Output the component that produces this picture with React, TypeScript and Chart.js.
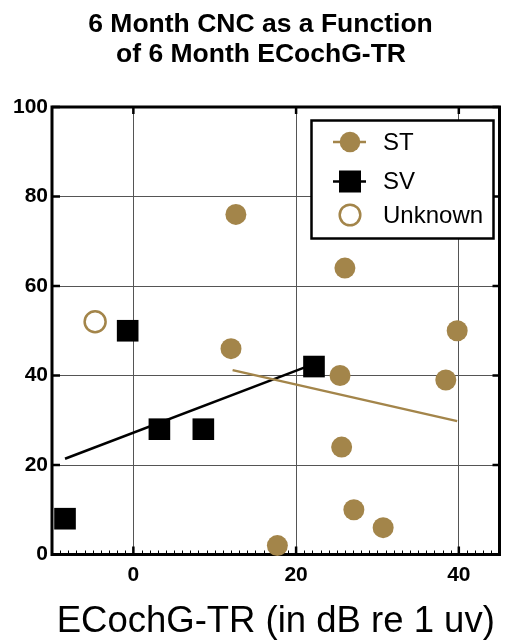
import React, { useEffect, useRef } from 'react';
import { Chart, registerables } from 'chart.js';

Chart.register(...registerables);

const titleLines = ['6 Month CNC as a Function', 'of 6 Month ECochG-TR'];
const xAxisTitle = 'ECochG-TR (in dB re 1 uv)';
const xTickValues = [0, 20, 40];
const yTickValues = [0, 20, 40, 60, 80, 100];

const stX = [12.6, 12, 26, 39.8, 25.4, 38.4, 25.6, 27.1, 30.7, 17.7];
const stY = [76, 46, 64, 50, 40, 39, 24, 10, 6, 2];
const svX = [-8.4, -0.7, 3.2, 8.6, 22.2];
const svY = [8, 50, 28, 28, 42];
const unknownX = [-4.7];
const unknownY = [52];
const stFitX = [12.2, 39.8];
const stFitY = [41.2, 29.8];
const svFitX = [-8.4, 22.2];
const svFitY = [21.4, 42.6];
const legendLabels = ['ST', 'SV', 'Unknown'];

const GOLD = '#A3854A';
const FONT = "'Liberation Sans', Arial, sans-serif";

const pts = (xs: number[], ys: number[]) => xs.map((x, i) => ({ x, y: ys[i] }));

const decor = {
  id: 'decor',
  beforeDatasetsDraw(chart: any) {
    const { ctx, chartArea: a, scales } = chart;
    const xs = scales.x;
    const ys = scales.y;
    ctx.save();
    ctx.strokeStyle = '#000';
    ctx.lineWidth = 1;
    for (let v = -10; v <= 45; v += 1) {
      const px = Math.round(xs.getPixelForValue(v)) + 0.5;
      ctx.beginPath();
      ctx.moveTo(px, a.bottom);
      ctx.lineTo(px, a.bottom - 4);
      ctx.stroke();
    }
    ctx.lineWidth = 2.5;
    xTickValues.forEach((v) => {
      const px = xs.getPixelForValue(v);
      ctx.beginPath();
      ctx.moveTo(px, a.bottom);
      ctx.lineTo(px, a.bottom - 8);
      ctx.moveTo(px, a.top);
      ctx.lineTo(px, a.top + 7);
      ctx.stroke();
    });
    yTickValues.forEach((v) => {
      const py = ys.getPixelForValue(v);
      ctx.beginPath();
      ctx.moveTo(a.left, py);
      ctx.lineTo(a.left + 8, py);
      ctx.moveTo(a.right, py);
      ctx.lineTo(a.right - 7, py);
      ctx.stroke();
    });
    ctx.lineWidth = 3;
    ctx.strokeRect(a.left, a.top, a.right - a.left, a.bottom - a.top);
    ctx.restore();
  },
  afterDraw(chart: any) {
    const { ctx } = chart;
    ctx.save();
    ctx.fillStyle = '#000';
    ctx.font = `bold 26.5px ${FONT}`;
    ctx.textAlign = 'center';
    ctx.textBaseline = 'alphabetic';
    ctx.fillText(titleLines[0], 260.5, 31.7);
    ctx.fillText(titleLines[1], 261, 62);
    const bx = 311.5, by = 120.5, bw = 182, bh = 118;
    ctx.fillStyle = '#fff';
    ctx.fillRect(bx, by, bw, bh);
    ctx.strokeStyle = '#000';
    ctx.lineWidth = 2.5;
    ctx.strokeRect(bx, by, bw, bh);
    const mx = 350;
    const rows = [142, 181.5, 215];
    ctx.strokeStyle = GOLD;
    ctx.lineWidth = 2.5;
    ctx.beginPath();
    ctx.moveTo(333, rows[0]);
    ctx.lineTo(366, rows[0]);
    ctx.stroke();
    ctx.fillStyle = GOLD;
    ctx.beginPath();
    ctx.arc(mx, rows[0], 10.3, 0, Math.PI * 2);
    ctx.fill();
    ctx.strokeStyle = '#000';
    ctx.beginPath();
    ctx.moveTo(333, rows[1]);
    ctx.lineTo(366, rows[1]);
    ctx.stroke();
    ctx.fillStyle = '#000';
    ctx.fillRect(mx - 11, rows[1] - 11, 22, 22);
    ctx.strokeStyle = GOLD;
    ctx.lineWidth = 2.5;
    ctx.beginPath();
    ctx.arc(mx, rows[2], 10.3, 0, Math.PI * 2);
    ctx.stroke();
    ctx.fillStyle = '#000';
    ctx.font = `24px ${FONT}`;
    ctx.textAlign = 'left';
    ctx.textBaseline = 'middle';
    legendLabels.forEach((t, i) => ctx.fillText(t, 383, rows[i] + 1));
    ctx.restore();
  },
};

export default function App() {
  const ref = useRef<HTMLCanvasElement | null>(null);
  useEffect(() => {
    if (!ref.current) return;
    const chart = new Chart(ref.current, {
      type: 'scatter',
      data: {
        datasets: [
          {
            label: 'ST',
            data: pts(stX, stY),
            pointStyle: 'circle',
            pointRadius: 10.5,
            pointBackgroundColor: GOLD,
            pointBorderWidth: 0,
            clip: false,
            order: 1,
          } as any,
          {
            label: 'SV',
            data: pts(svX, svY),
            pointStyle: 'rect',
            pointRadius: 15.3,
            pointBackgroundColor: '#000',
            pointBorderWidth: 0,
            clip: false,
            order: 2,
          },
          {
            label: 'Unknown',
            data: pts(unknownX, unknownY),
            pointStyle: 'circle',
            pointRadius: 10.5,
            pointBackgroundColor: 'rgba(255,255,255,0)',
            pointBorderColor: GOLD,
            pointBorderWidth: 2.5,
            clip: false,
            order: 3,
          },
          {
            type: 'line',
            label: 'ST fit',
            data: pts(stFitX, stFitY),
            borderColor: GOLD,
            borderWidth: 2.5,
            pointRadius: 0,
            showLine: true,
            fill: false,
            order: 4,
          } as any,
          {
            type: 'line',
            label: 'SV fit',
            data: pts(svFitX, svFitY),
            borderColor: '#000',
            borderWidth: 2.5,
            pointRadius: 0,
            showLine: true,
            fill: false,
            order: 5,
          } as any,
        ],
      },
      options: {
        responsive: false,
        animation: false,
        layout: { autoPadding: false, padding: { top: 107, right: 5.5, left: 0, bottom: 0 } },
        plugins: {
          legend: { display: false },
          title: { display: false },
          tooltip: { enabled: false },
        },
        scales: {
          x: {
            type: 'linear',
            min: -10,
            max: 45,
            afterBuildTicks: (s: any) => {
              s.ticks = xTickValues.map((v) => ({ value: v }));
            },
            afterFit: (s: any) => {
              s.height = 86.5;
              s.paddingLeft = 0;
              s.paddingRight = 0;
            },
            grid: { color: '#555', lineWidth: 1, drawTicks: false },
            border: { display: false },
            ticks: {
              padding: 8,
              color: '#000',
              font: { family: FONT, size: 21, weight: 'bold' },
            },
            title: {
              display: true,
              text: xAxisTitle,
              color: '#000',
              font: { family: FONT, size: 36.5, lineHeight: 1 },
              padding: { top: 0, bottom: 1 },
            },
          },
          y: {
            type: 'linear',
            min: 0,
            max: 100,
            afterBuildTicks: (s: any) => {
              s.ticks = yTickValues.map((v) => ({ value: v }));
            },
            afterFit: (s: any) => {
              s.width = 52;
              s.paddingTop = 0;
              s.paddingBottom = 0;
            },
            grid: { color: '#555', lineWidth: 1, drawTicks: false },
            border: { display: false },
            ticks: {
              padding: 4,
              color: '#000',
              font: { family: FONT, size: 21, weight: 'bold' },
            },
          },
        },
      },
      plugins: [decor],
    } as any);
    return () => chart.destroy();
  }, []);
  return (
    <div style={{ position: 'absolute', left: 0, top: 0, width: 505, height: 641, background: '#fff' }}>
      <canvas ref={ref} width={505} height={641} style={{ display: 'block' }} />
    </div>
  );
}
